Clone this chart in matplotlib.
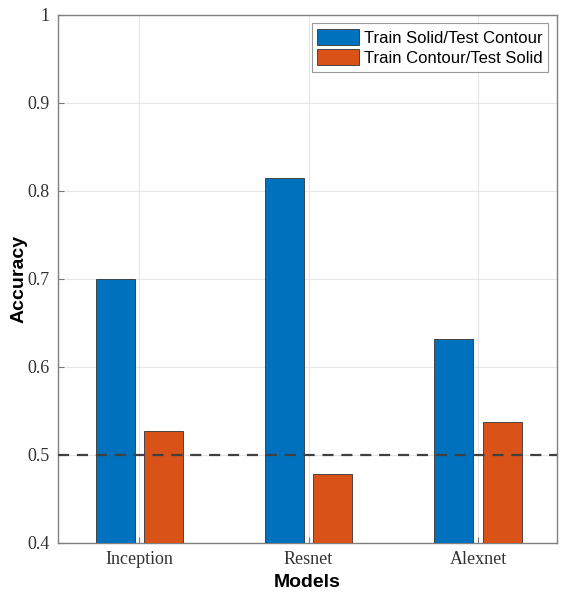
import numpy as np
import matplotlib
matplotlib.use("Agg")
import matplotlib.pyplot as plt

models = ["Inception", "Resnet", "Alexnet"]
solid_contour = [0.700, 0.815, 0.632]
contour_solid = [0.527, 0.478, 0.537]
series_names = ["Train Solid/Test Contour", "Train Contour/Test Solid"]
chance = 0.5

fig = plt.figure(figsize=(5.67, 5.98), dpi=100)
ax = fig.add_axes([0.102, 0.092, 0.880, 0.883])

x = np.arange(1, len(models) + 1)
w = 0.23
off = 0.142
ax.bar(x - off, solid_contour, w, color="#0072BD", edgecolor="#333333", linewidth=0.6,
       label=series_names[0], zorder=3)
ax.bar(x + off, contour_solid, w, color="#D95319", edgecolor="#333333", linewidth=0.6,
       label=series_names[1], zorder=3)
ax.axhline(chance, color="#404040", linestyle=(0, (5, 3.5)), linewidth=1.6, zorder=4)

ax.set_xlim(0.52, 3.465)
ax.set_ylim(0.4, 1.0)
ax.set_xticks(x)
ax.set_xticklabels(models, family="Liberation Serif", fontsize=13, color="#333333")
yt = [0.4, 0.5, 0.6, 0.7, 0.8, 0.9, 1.0]
ax.set_yticks(yt)
ax.set_yticklabels(["0.4", "0.5", "0.6", "0.7", "0.8", "0.9", "1"],
                   family="Liberation Serif", fontsize=13, color="#333333")
ax.tick_params(direction="in", length=4, color="#777777", pad=6)
ax.grid(True, color="#e6e6e6", linewidth=0.8, zorder=0)
for s in ax.spines.values():
    s.set_color("#808080")
    s.set_linewidth(1.0)

ax.set_xlabel("Models", family="Liberation Sans", fontsize=14, fontweight="bold", labelpad=4)
ax.set_ylabel("Accuracy", family="Liberation Sans", fontsize=14, fontweight="bold", labelpad=0)

leg = ax.legend(loc="upper right", prop={"family": "Liberation Sans", "size": 12},
                fancybox=False, edgecolor="#808080", handlelength=2.5, handleheight=1.1,
                handletextpad=0.3, borderpad=0.35, labelspacing=0.2, borderaxespad=0.5)
leg.get_frame().set_linewidth(0.8)

fig.savefig("out.png", dpi=100)
